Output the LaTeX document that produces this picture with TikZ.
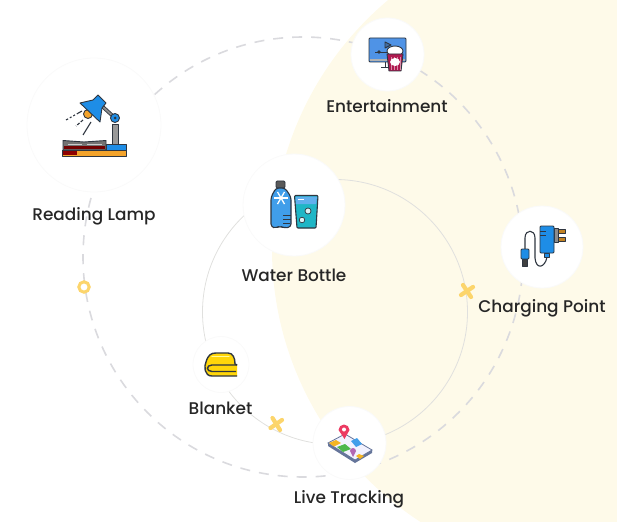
\documentclass[tikz,border=0pt]{standalone}
\usepackage{fontspec}
\setmainfont{Poppins}[UprightFont=* Medium]
\usepackage{xcolor}
\definecolor{myCream}{HTML}{FEFAE9}
\definecolor{myDash}{HTML}{DADADE}
\definecolor{myThin}{HTML}{E0E0DE}
\definecolor{myMark}{HTML}{FCD56C}
\definecolor{myInk}{HTML}{2F3640}
\definecolor{myBlue}{HTML}{1E8DE6}
\definecolor{myScreen}{HTML}{4F93E6}
\definecolor{myTeal}{HTML}{1FB6C6}
\definecolor{myCrim}{HTML}{B01A50}
\definecolor{myOrange}{HTML}{F3A32B}
\definecolor{myYellow}{HTML}{FFD60A}
\definecolor{myPhone}{HTML}{65759A}
\definecolor{myPin}{HTML}{EC3A62}
\tikzset{
  disc/.style={circle,fill=white,draw=black!2,line width=0.8pt,inner sep=0pt},
  lbl/.style={text=black!85,font=\fontsize{16.9}{18}\selectfont,text height=12pt,text depth=0pt},
  crossmark/.style={myMark,line width=4.2pt,line cap=round},
  icon/.style={draw=myInk,line width=0.9pt,line join=round}
}
\begin{document}
\begin{tikzpicture}[x=1pt,y=-1pt]
        \useasboundingbox (0,0) rectangle (617,521);
        \begin{scope}
          \clip (0,0) rectangle (617,521);
          \fill[myCream] (597,249) circle [radius=325];
        \end{scope}
        % the two orbits
        \draw[myDash,line width=1.6pt,dash pattern=on 10pt off 9pt] (303,257) circle [radius=220];
        \draw[myThin,line width=0.8pt] (335,312) circle [radius=132.5];
        % discs
        \node[disc,minimum size=134pt] (lampDisc) at (94,125) {};
        \node[disc,minimum size=73pt] (filmDisc) at (387.5,54.5) {};
        \node[disc,minimum size=102pt] (bottleDisc) at (294,205) {};
        \node[disc,minimum size=82pt] (chargeDisc) at (542,247) {};
        \node[disc,minimum size=56pt] (blanketDisc) at (221,364.5) {};
        \node[disc,minimum size=73pt] (trackDisc) at (349.5,443) {};
        % labels
        \node[lbl] (lampLabel) at (94,214) {Reading Lamp};
        \node[lbl] (filmLabel) at (387,107) {Entertainment};
        \node[lbl] (bottleLabel) at (294,275) {Water Bottle};
        \node[lbl] (chargeLabel) at (542,306) {Charging Point};
        \node[lbl] (blanketLabel) at (220.5,408) {Blanket};
        \node[lbl] (trackLabel) at (349,497) {Live Tracking};
        % markers
        \draw[myMark,line width=3pt,fill=white] (84,287) circle [radius=5.2];
        \draw[crossmark] (461,295) -- (473,287);
        \draw[crossmark] (463,285) -- (471,297);
        \draw[crossmark] (270.5,428) -- (282,420);
        \draw[crossmark] (272.5,418) -- (280,430);
        % lamp
        \draw[icon,fill=myOrange] (62,150) rectangle (126,156);
        \fill[red!55!black] (63,151) rectangle (77,155);
        \draw[icon,fill=myBlue] (106,144) rectangle (126,150);
        \draw[icon,fill=black!55] (63,140.5) -- (84,142) -- (106,140.5) -- (106,150) -- (63,150) -- cycle;
        \fill[red!45!black] (64,146) rectangle (105,149.4);
        \draw[white!80!black,line width=0.7pt] (68,144) -- (82,144) (87,144) -- (102,144);
        \draw[icon,fill=black!40] (112,124) rectangle (118,144);
        \draw[myInk,line width=3.6pt] (115,118) -- (103,107);
        \draw[black!45,line width=1.9pt] (115,118) -- (103,107);
        \draw[icon,fill=myOrange] (88,114) circle [radius=4.5];
        \draw[icon,fill=myBlue] (80,103) -- (93,100) -- (98,95) -- (106,103) -- (102,108) -- (100,122) -- cycle;
        \draw[icon,fill=myBlue] (115,118) circle [radius=4.5];
        \fill[myInk] (115,118) circle [radius=1.5];
        \draw[myInk,line width=1.1pt,dash pattern=on 6pt off 2pt on 2pt off 2pt on 2pt off 2pt] (82,111) -- (66,120);
        \draw[myInk,line width=1.1pt,dash pattern=on 3pt off 1.5pt] (83,120) -- (76,126);
        \draw[myInk,line width=1.1pt] (91,122) -- (83,135);
        % film
        \draw[icon,fill=myScreen,rounded corners=1pt] (369,38) rectangle (406,62);
        \fill[black!30] (369.6,59) rectangle (405.4,61.5);
        \draw[icon] (385,62) -- (385,67) (381,67) -- (388,67);
        \draw[icon,fill=myScreen!60!myInk] (385,42) -- (385,48) -- (391,45) -- cycle;
        \draw[myInk,line width=0.9pt] (375,52) -- (387,52);
        \fill[myInk] (379,52) circle [radius=1.8];
        \draw[icon,fill=white] (395,51) ellipse [x radius=8,y radius=5];
        \draw[icon,fill=myCrim] (387,54) -- (403,54) -- (401,71) -- (389,71) -- cycle;
        \foreach \px in {391,394,397,400} {\draw[myCrim!50!white,line width=0.6pt] (\px,57) -- (\px,70);}
        \fill[white] (395,62) ellipse [x radius=5,y radius=4];
        % bottle
        \draw[icon,fill=black!65,rounded corners=1.2pt] (276,181) rectangle (285,188);
        \draw[icon,line width=1.1pt,fill=myBlue!85!white,rounded corners=3pt] (276,188) -- (285,188) -- (291,197) -- (291,227) -- (284,228) -- (280,226) -- (276,228) -- (271,227) -- (271,197) -- cycle;
        \foreach \ang in {0,60,120} {\draw[white,line width=1.3pt] (281,198) ++(\ang:7pt) -- ++(\ang+180:14pt);}
        \draw[myInk,line width=0.9pt] (283,215) -- (291,215) (283,219) -- (291,219) (283,223) -- (290,223);
        \draw[icon,line width=1.1pt,fill=myTeal,rounded corners=1pt] (294.5,195.5) -- (318,195.5) -- (316,228) -- (297,228) -- cycle;
        \fill[myBlue!70!white] (295.5,196.5) -- (317,196.5) -- (316.2,204) -- (296,204) -- cycle;
        \draw[white,line width=0.8pt] (297.5,199) -- (304,199);
        \draw[icon,fill=white!85!myTeal,line width=0.7pt] (308,211) circle [radius=3];
        \draw[icon,fill=white!85!myTeal,line width=0.7pt] (302,220) circle [radius=2.8];
        % charger
        \draw[myInk,line width=1.1pt] (547,257) .. controls (545,268) and (536,270) .. (535,258) -- (535,238) .. controls (535,229) and (525,229) .. (525,238) -- (525,249);
        \draw[icon,fill=black!75] (522.5,259) rectangle (527.5,266);
        \draw[icon,fill=myBlue,rounded corners=1pt] (521,249) rectangle (529,259);
        \draw[icon,fill=myBlue] (544,253) rectangle (549,257);
        \draw[icon,fill=myOrange!80!black] (556,229) rectangle (565,233);
        \draw[icon,fill=myOrange!80!black] (556,237) rectangle (565,241);
        \draw[icon,fill=black!45] (554,228) rectangle (558,242);
        \draw[icon,fill=myBlue,rounded corners=1pt] (540,226) rectangle (554,253);
        \draw[myInk,line width=1pt] (540,231) -- (546,231) (540,235) -- (546,235);
        % blanket
        \draw[myInk,line width=1.4pt,line join=round,fill=myYellow] (237,376) -- (212,376) .. controls (204,376) and (204,366) .. (206,362) .. controls (208,355) and (211,353) .. (216,353) -- (228,353) .. controls (233,353) and (235,358) .. (235,364) -- (237,365);
        \draw[yellow!40!white,line width=1.3pt,line cap=round] (212,356.5) -- (229,356.5);
        \draw[myInk,line width=1.4pt] (237,365) -- (212,365) .. controls (206,365) and (206,371.5) .. (212,371.5) -- (236,371.5);
        % tracking
        \fill[myPhone] (328,443) -- (328,446) -- (355,463) -- (372,453) -- (372,450) -- cycle;
        \draw[myPhone,line width=0.8pt,fill=blue!5] (328,443) -- (345,434) -- (372,450) -- (355,460) -- cycle;
        \fill[myOrange!80!yellow] (329,443) -- (336,440) -- (341,443) -- (334,446.5) -- cycle;
        \fill[green!60!black!70!white] (337,447) -- (345,444) -- (351,449) -- (343,452) -- cycle;
        \fill[myBlue!85!white] (351,441) -- (357,438) -- (362,444) -- (356,447) -- cycle;
        \fill[myOrange!80!yellow] (356,456) -- (359,454) -- (364,456) -- (360,459) -- cycle;
        \fill[violet!60!white] (353,457) -- (350,451) arc [start angle=180,end angle=360,radius=3] -- cycle;
        \fill[myPin] (344.5,439) -- (338.5,430) arc [start angle=180,end angle=360,radius=5.5] -- cycle;
        \fill[white] (344,429.5) circle [radius=2];
\end{tikzpicture}
\end{document}
